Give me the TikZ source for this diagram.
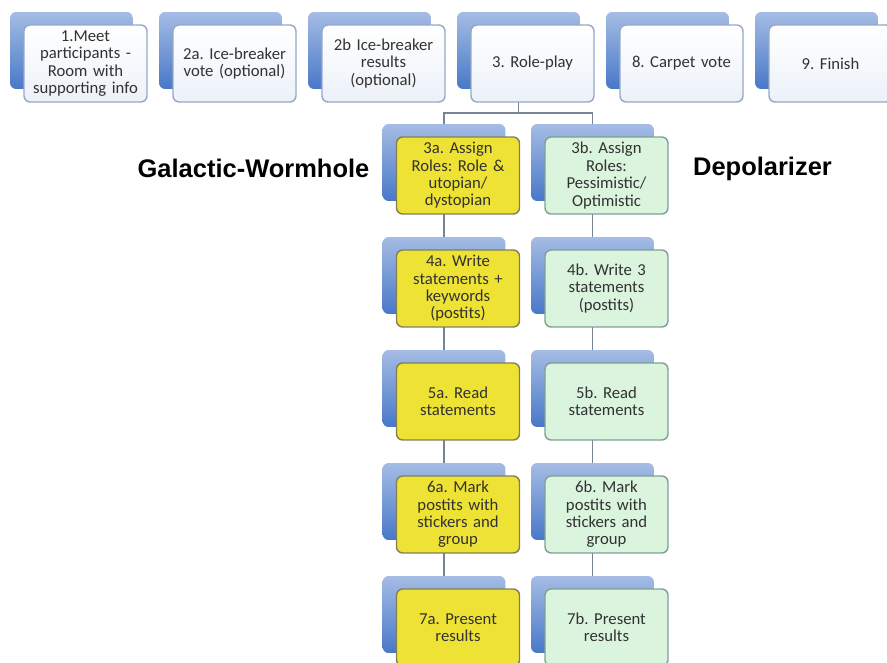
\documentclass[tikz,border=0pt]{standalone}
\usepackage{fontspec}
\usepackage{xcolor}
\usepackage{tikz}
\usetikzlibrary{positioning, calc, backgrounds}
\newfontfamily\cardfont{Carlito}
\newfontfamily\titlefont{Liberation Sans}
\frenchspacing
\definecolor{tabtop}{RGB}{165, 188, 228}
\definecolor{tabbottom}{RGB}{72, 120, 200}
\definecolor{cardline}{RGB}{150, 168, 198}
\definecolor{cardshade}{RGB}{236, 241, 249}
\definecolor{alphafill}{RGB}{238, 226, 52}
\definecolor{alphaline}{RGB}{128, 128, 88}
\definecolor{betafill}{RGB}{218, 244, 222}
\definecolor{betaline}{RGB}{128, 160, 150}
\definecolor{linkgray}{RGB}{120, 132, 150}
\definecolor{inkgray}{RGB}{50, 50, 50}

\tikzset{
    cardbase/.style={rectangle, rounded corners=3.5pt, minimum width=2.46cm,
        minimum height=1.54cm, inner sep=0pt},
    backtab/.style={cardbase, top color=tabtop, bottom color=tabbottom, draw=none},
    toptask/.style={cardbase, draw=cardline, line width=0.8pt, top color=white,
        bottom color=cardshade, text width=2.36cm, align=center, text=inkgray,
        font=\cardfont\fontsize{9.5}{9.9}\selectfont},
    alphatask/.style={toptask, draw=alphaline, top color=alphafill, bottom color=alphafill},
    betatask/.style={toptask, draw=betaline, top color=betafill, bottom color=betafill},
    link/.style={draw=linkgray, line width=0.8pt},
    heading/.style={font=\titlefont\bfseries\fontsize{14.5}{17}\selectfont, text=black}
}

\begin{document}
\begin{tikzpicture}[x=0.02cm, y=-0.02cm]
    \useasboundingbox (0, 0) rectangle (887, 663);
    \clip (0, 0) rectangle (887, 663);

    % Top row of steps
    \foreach \i/\nm/\txt in {
        0/meet/{1.Meet\\participants -\\Room with\\supporting info},
        1/icevote/{2a. Ice-breaker\\vote (optional)},
        2/iceres/{2b Ice-breaker\\results\\(optional)},
        3/roleplay/{3. Role-play},
        4/carpet/{8. Carpet vote},
        5/finish/{9. Finish}} {
        \node[backtab] (\nm-bk) at (71.5 + \i*149, 50.5) {};
        \node[toptask] (\nm) at (85.5 + \i*149, 63.5) {\txt};
    }

    % Galactic-Wormhole column
    \foreach \j/\nm/\txt in {
        0/assigna/{3a. Assign\\Roles: Role \&\\utopian/\\dystopian},
        1/writea/{4a. Write\\statements +\\keywords\\(postits)},
        2/reada/{5a. Read\\statements},
        3/marka/{6a. Mark\\postits with\\stickers and\\group},
        4/presenta/{7a. Present\\results}} {
        \node[backtab] (\nm-bk) at (444, 162.5 + \j*113) {};
        \node[alphatask] (\nm) at (458, 175.5 + \j*113) {\txt};
    }

    % Depolarizer column
    \foreach \j/\nm/\txt in {
        0/assignb/{3b. Assign\\Roles:\\Pessimistic/\\Optimistic},
        1/writeb/{4b. Write 3\\statements\\(postits)},
        2/readb/{5b. Read\\statements},
        3/markb/{6b. Mark\\postits with\\stickers and\\group},
        4/presentb/{7b. Present\\results}} {
        \node[backtab] (\nm-bk) at (592.5, 162.5 + \j*113) {};
        \node[betatask] (\nm) at (606.5, 175.5 + \j*113) {\txt};
    }

    % Headings
    \node[heading] (galactic) at (253.5, 168.5) {Galactic-Wormhole};
    \node[heading] (depol) at (762.5, 168.5) {Depolarizer};

    % Connectors, behind the cards
    \begin{scope}[on background layer]
        \fill[white] (0, 0) rectangle (887, 663);
        \coordinate (split) at (roleplay-bk.center |- 0, 113);
        \draw[link] (roleplay-bk.center) -- (split);
        \draw[link] (assigna-bk.center) |- (split) -| (assignb-bk.center);
        \draw[link] (assigna-bk.center) -- (writea-bk.center) -- (reada-bk.center)
            -- (marka-bk.center) -- (presenta-bk.center);
        \draw[link] (assignb-bk.center) -- (writeb-bk.center) -- (readb-bk.center)
            -- (markb-bk.center) -- (presentb-bk.center);
    \end{scope}
\end{tikzpicture}
\end{document}
